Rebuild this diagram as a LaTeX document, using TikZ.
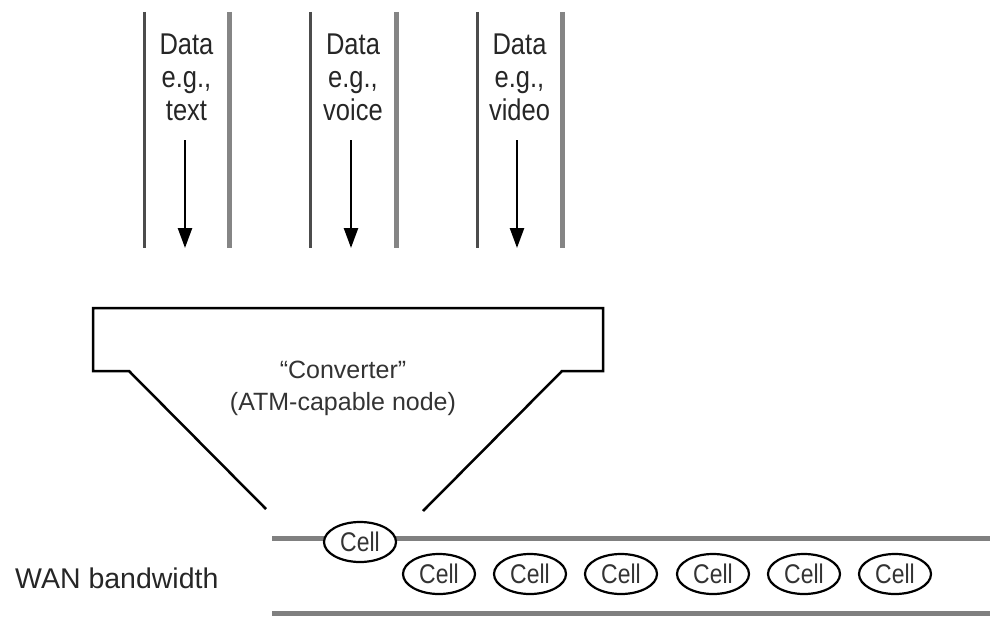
\documentclass[tikz,border=0pt]{standalone}
\usepackage{fontspec}
\setmainfont{Liberation Sans}
\newfontfamily\cndfont{Liberation Sans}[FakeStretch=0.85]
\usetikzlibrary{arrows.meta,shapes.geometric}
\begin{document}
\begin{tikzpicture}[x=1pt,y=-1pt,
  lbl/.style={font=\cndfont\fontsize{30}{32}\selectfont, anchor=base, inner sep=0pt, text=black!85},
  lanel/.style={line width=3pt, draw=black!70},
  laner/.style={line width=5pt, draw=black!48},
  flow/.style={line width=2.5pt, -{Triangle[length=20pt,width=14pt]}},
  convline/.style={line width=2.5pt, line join=miter},
  wan/.style={line width=5pt, draw=black!50},
  cell/.style={ellipse, draw, line width=2.2pt, fill=white, minimum width=72pt, minimum height=40pt, inner sep=0pt, font=\cndfont\fontsize{27}{27}\selectfont, text=black!80},
  ctext/.style={font=\fontsize{25}{25}\selectfont, anchor=base, inner sep=0pt, text=black!80},
]
\useasboundingbox (0,0) rectangle (990,618);

% input lanes
\foreach \i/\xl/\xr/\xa/\w in {1/144/229/185/text, 2/310/396/351/voice, 3/477/562/517/video}{
  \draw[lanel] (\xl,12) -- (\xl,248);
  \draw[laner] (\xr,12) -- (\xr,248);
  \node[lbl] (d\i a) at ({(\xl+\xr)/2},55) {Data};
  \node[lbl] (d\i b) at ({(\xl+\xr)/2},87) {e.g.,};
  \node[lbl] (d\i c) at ({(\xl+\xr)/2},120) {\w};
  \coordinate (s\i) at (\xa,140);
  \coordinate (e\i) at (\xa,248);
  \draw[flow] (s\i) -- (e\i);
}

% converter
\draw[convline] (266,509) -- (129,371) -- (93,371) -- (93,308) -- (603,308) -- (603,371) -- (562,371) -- (423,511);
\node[ctext] (conv1) at (343,378) {“Converter”};
\node[ctext] (conv2) at (343,410) {(ATM-capable node)};

% WAN
\coordinate (wt0) at (272,538);
\coordinate (wt1) at (990,538);
\coordinate (wb0) at (272,613);
\coordinate (wb1) at (990,613);
\draw[wan] (wt0) -- (wt1);
\draw[wan] (wb0) -- (wb1);
\node[anchor=base west, inner sep=0pt, font=\fontsize{28.5}{28.5}\selectfont, text=black!85] (wanlbl) at (15,588) {WAN bandwidth};

\node[cell] (c0) at (360,542) {Cell};
\foreach \i/\x in {1/439, 2/530, 3/621, 4/713, 5/804, 6/895}{
  \node[cell] (c\i) at (\x,574) {Cell};
}
\end{tikzpicture}
\end{document}
